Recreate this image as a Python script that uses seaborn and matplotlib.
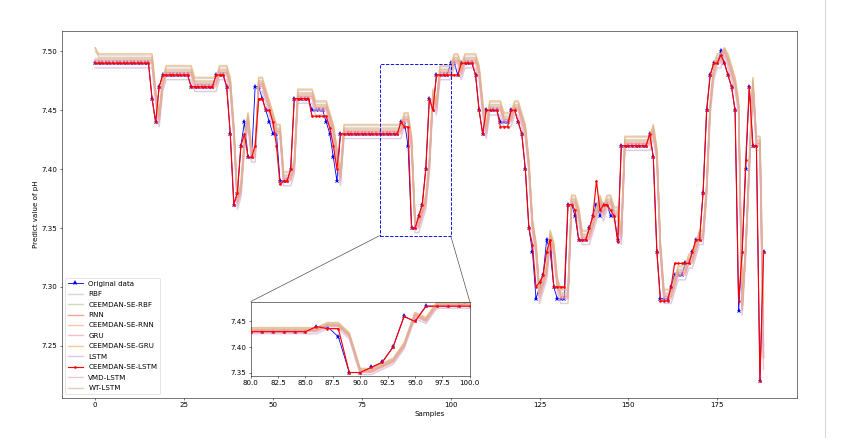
"""pH prediction comparison of decomposition-based models, with zoomed inset."""

import matplotlib

matplotlib.use("Agg")
import matplotlib.pyplot as plt
import numpy as np
import seaborn as sns
from matplotlib.lines import Line2D
from matplotlib.patches import ConnectionPatch, Rectangle

# ---- data ---------------------------------------------------------------
original = (
    [7.49] * 16 + [7.46, 7.44, 7.47] + [7.48] * 8 + [7.47] * 7 + [7.48] * 3
    + [7.47, 7.43, 7.37, 7.38, 7.42, 7.44] + [7.41] * 2 + [7.47] * 2 + [7.46, 7.45, 7.44] + [7.43] * 2 + [7.39] * 3 + [7.40]
    + [7.46] * 5 + [7.45] * 4 + [7.44, 7.43, 7.41, 7.39] + [7.43] * 17 + [7.44] * 2 + [7.42] + [7.35] * 2
    + [7.36, 7.37, 7.40, 7.46, 7.45] + [7.48] * 4 + [7.49] * 2 + [7.48] + [7.49] * 4 + [7.48, 7.45, 7.43] + [7.45] * 4 + [7.44] * 3 + [7.45] * 2
    + [7.44, 7.43, 7.40, 7.35, 7.33, 7.29, 7.30, 7.31, 7.34, 7.33, 7.30] + [7.29] * 3 + [7.37] * 2 + [7.36] + [7.34] * 3
    + [7.35, 7.36, 7.37, 7.36] + [7.37] * 2 + [7.36] * 2 + [7.34] + [7.42] * 8 + [7.43, 7.41, 7.33] + [7.29] * 3 + [7.30] + [7.31] * 3 + [7.32] * 2 + [7.33] + [7.34] * 2
    + [7.38, 7.45, 7.48] + [7.49] * 2 + [7.50, 7.49, 7.48, 7.47, 7.45, 7.28, 7.33, 7.40, 7.47] + [7.42] * 2 + [7.22, 7.33]
)

ceemdan_se_lstm = (
    [7.49] * 16 + [7.46, 7.44, 7.47] + [7.48] * 8 + [7.47] * 7 + [7.48] * 3
    + [7.47, 7.43, 7.37, 7.38, 7.42, 7.43, 7.41, 7.41, 7.42, 7.46, 7.46, 7.45, 7.45, 7.44, 7.42, 7.387, 7.39, 7.39, 7.40]
    + [7.46] * 5 + [7.445] * 4 + [7.445, 7.435, 7.42, 7.40] + [7.43] * 17
    + [7.44, 7.436, 7.436, 7.35, 7.35, 7.36, 7.37, 7.40, 7.46, 7.45] + [7.48] * 7 + [7.49] * 4 + [7.48, 7.45, 7.43]
    + [7.45] * 4 + [7.436] * 3
    + [7.45, 7.45, 7.44, 7.43, 7.40, 7.35, 7.336, 7.30, 7.304, 7.31, 7.33, 7.34, 7.30] + [7.30] * 3 + [7.37, 7.37, 7.365] + [7.34] * 3
    + [7.35, 7.36, 7.39, 7.365, 7.37, 7.37, 7.365, 7.36, 7.338] + [7.42] * 8 + [7.43, 7.41, 7.33] + [7.288] * 3 + [7.30] + [7.32] * 5
    + [7.33, 7.34, 7.34, 7.38, 7.45, 7.48, 7.49, 7.49, 7.497, 7.49, 7.48, 7.47, 7.45, 7.288, 7.33, 7.408, 7.47, 7.42, 7.42, 7.22, 7.33]
)

rbf = (
    [7.500] + [7.497] * 16 + [7.467, 7.447, 7.477] + [7.487] * 8 + [7.477] * 7 + [7.487] * 3
    + [7.477, 7.437, 7.377, 7.387, 7.427, 7.447] + [7.417] * 2 + [7.477] * 2 + [7.467, 7.457, 7.447] + [7.437] * 2 + [7.397] * 3 + [7.407]
    + [7.467] * 5 + [7.457] * 4 + [7.447, 7.437, 7.417, 7.397] + [7.437] * 17 + [7.447] * 2 + [7.427] + [7.357] * 2
    + [7.367, 7.377, 7.407, 7.467, 7.457] + [7.487] * 4 + [7.497] * 2 + [7.487] + [7.497] * 4 + [7.487, 7.457, 7.437] + [7.457] * 4 + [7.447] * 3 + [7.457] * 2
    + [7.447, 7.437, 7.407, 7.357, 7.337, 7.297, 7.307, 7.317, 7.347, 7.337, 7.307] + [7.297] * 3 + [7.377] * 2 + [7.367] + [7.347] * 3
    + [7.357, 7.367, 7.377, 7.367] + [7.377] * 2 + [7.367] * 2 + [7.347] + [7.427] * 8 + [7.437, 7.417, 7.337] + [7.297] * 3 + [7.307] + [7.317] * 3 + [7.327] * 2 + [7.337] + [7.347] * 2
    + [7.387, 7.457, 7.487] + [7.497] * 2 + [7.502, 7.497, 7.487, 7.477, 7.457, 7.287, 7.337, 7.407, 7.477] + [7.427] * 2 + [7.26]
)

ceemdan_se_rbf = (
    [7.494] + [7.494] * 16 + [7.464, 7.444, 7.474] + [7.484] * 8 + [7.474] * 7 + [7.484] * 3
    + [7.474, 7.434, 7.374, 7.384, 7.424, 7.444] + [7.414] * 2 + [7.474] * 2 + [7.464, 7.454, 7.444] + [7.434] * 2 + [7.394] * 3 + [7.404]
    + [7.464] * 5 + [7.454] * 4 + [7.444, 7.434, 7.414, 7.394] + [7.434] * 17 + [7.444] * 2 + [7.424] + [7.354] * 2
    + [7.364, 7.374, 7.404, 7.464, 7.454] + [7.484] * 4 + [7.494] * 2 + [7.484] + [7.494] * 4 + [7.484, 7.454, 7.434] + [7.454] * 4 + [7.444] * 3 + [7.454] * 2
    + [7.444, 7.434, 7.404, 7.354, 7.334, 7.294, 7.304, 7.314, 7.344, 7.334, 7.304] + [7.294] * 3 + [7.374] * 2 + [7.364] + [7.344] * 3
    + [7.354, 7.364, 7.374, 7.364] + [7.374] * 2 + [7.364] * 2 + [7.344] + [7.424] * 8 + [7.434, 7.414, 7.334] + [7.294] * 3 + [7.304] + [7.314] * 3 + [7.324] * 2 + [7.334] + [7.344] * 2
    + [7.384, 7.454, 7.484] + [7.494] * 2 + [7.501, 7.494, 7.484, 7.474, 7.454, 7.284, 7.334, 7.404, 7.474] + [7.424] * 2 + [7.25]
)

rnn = (
    [7.492] + [7.492] * 16 + [7.462, 7.442, 7.472] + [7.482] * 8 + [7.472] * 7 + [7.482] * 3
    + [7.472, 7.432, 7.372, 7.382, 7.422, 7.442] + [7.412] * 2 + [7.472] * 2 + [7.462, 7.452, 7.442] + [7.432] * 2 + [7.392] * 3 + [7.402]
    + [7.462] * 5 + [7.452] * 4 + [7.442, 7.432, 7.412, 7.392] + [7.432] * 17 + [7.442] * 2 + [7.422] + [7.352] * 2
    + [7.362, 7.372, 7.402, 7.462, 7.452] + [7.482] * 4 + [7.492] * 2 + [7.482] + [7.492] * 4 + [7.482, 7.452, 7.432] + [7.452] * 4 + [7.442] * 3 + [7.452] * 2
    + [7.442, 7.432, 7.402, 7.352, 7.332, 7.292, 7.302, 7.312, 7.342, 7.332, 7.302] + [7.292] * 3 + [7.372] * 2 + [7.362] + [7.342] * 3
    + [7.352, 7.362, 7.372, 7.362] + [7.372] * 2 + [7.362] * 2 + [7.342] + [7.422] * 8 + [7.432, 7.412, 7.332] + [7.292] * 3 + [7.302] + [7.312] * 3 + [7.322] * 2 + [7.332] + [7.342] * 2
    + [7.382, 7.452, 7.482] + [7.492] * 2 + [7.500, 7.492, 7.482, 7.472, 7.452, 7.282, 7.332, 7.402, 7.472] + [7.422] * 2 + [7.24]
)

ceemdan_se_rnn = (
    [7.49] + [7.49] * 16 + [7.46, 7.44, 7.47] + [7.48] * 8 + [7.47] * 7 + [7.48] * 3
    + [7.47, 7.43, 7.37, 7.38, 7.42, 7.44] + [7.41] * 2 + [7.47] * 2 + [7.46, 7.45, 7.44] + [7.43] * 2 + [7.39] * 3 + [7.40]
    + [7.46] * 5 + [7.45] * 4 + [7.44, 7.43, 7.41, 7.39] + [7.43] * 17 + [7.44] * 2 + [7.42] + [7.35] * 2
    + [7.36, 7.37, 7.40, 7.46, 7.45] + [7.48] * 4 + [7.49] * 2 + [7.48] + [7.49] * 4 + [7.48, 7.45, 7.43] + [7.45] * 4 + [7.44] * 3 + [7.45] * 2
    + [7.44, 7.43, 7.40, 7.35, 7.33, 7.29, 7.30, 7.31, 7.34, 7.33, 7.30] + [7.29] * 3 + [7.37] * 2 + [7.36] + [7.34] * 3
    + [7.35, 7.36, 7.37, 7.36] + [7.37] * 2 + [7.36] * 2 + [7.34] + [7.42] * 8 + [7.43, 7.41, 7.33] + [7.29] * 3 + [7.30] + [7.31] * 3 + [7.32] * 2 + [7.33] + [7.34] * 2
    + [7.38, 7.45, 7.48] + [7.49] * 2 + [7.50, 7.49, 7.48, 7.47, 7.45, 7.28, 7.33, 7.40, 7.47] + [7.42] * 2 + [7.24]
)

gru = (
    [7.493] + [7.493] * 16 + [7.463, 7.443, 7.473] + [7.483] * 8 + [7.473] * 7 + [7.483] * 3
    + [7.473, 7.433, 7.373, 7.383, 7.423, 7.443] + [7.413] * 2 + [7.473] * 2 + [7.463, 7.453, 7.443] + [7.433] * 2 + [7.393] * 3 + [7.403]
    + [7.463] * 5 + [7.453] * 4 + [7.443, 7.433, 7.413, 7.393] + [7.433] * 17 + [7.443] * 2 + [7.423] + [7.353] * 2
    + [7.363, 7.373, 7.403, 7.463, 7.453] + [7.483] * 4 + [7.493] * 2 + [7.483] + [7.493] * 4 + [7.483, 7.453, 7.433] + [7.453] * 4 + [7.443] * 3 + [7.453] * 2
    + [7.443, 7.433, 7.403, 7.353, 7.333, 7.293, 7.303, 7.313, 7.343, 7.333, 7.303] + [7.293] * 3 + [7.373] * 2 + [7.363] + [7.343] * 3
    + [7.353, 7.363, 7.373, 7.363] + [7.373] * 2 + [7.363] * 2 + [7.343] + [7.423] * 8 + [7.433, 7.413, 7.333] + [7.293] * 3 + [7.303] + [7.313] * 3 + [7.323] * 2 + [7.333] + [7.343] * 2
    + [7.383, 7.453, 7.483] + [7.493] * 2 + [7.501, 7.493, 7.483, 7.473, 7.453, 7.283, 7.333, 7.403, 7.473] + [7.423] * 2 + [7.25]
)

ceemdan_se_gru = (
    [7.503] + [7.498] * 16 + [7.468, 7.448, 7.478] + [7.488] * 8 + [7.478] * 7 + [7.488] * 3
    + [7.478, 7.438, 7.378, 7.388, 7.428, 7.448] + [7.418] * 2 + [7.478] * 2 + [7.468, 7.458, 7.448] + [7.438] * 2 + [7.398] * 3 + [7.408]
    + [7.468] * 5 + [7.458] * 4 + [7.448, 7.438, 7.418, 7.398] + [7.438] * 17 + [7.448] * 2 + [7.428] + [7.358] * 2
    + [7.368, 7.378, 7.408, 7.468, 7.458] + [7.488] * 4 + [7.498] * 2 + [7.488] + [7.498] * 4 + [7.488, 7.458, 7.438] + [7.458] * 4 + [7.448] * 3 + [7.458] * 2
    + [7.448, 7.438, 7.408, 7.358, 7.338, 7.298, 7.308, 7.318, 7.348, 7.338, 7.308] + [7.298] * 3 + [7.378] * 2 + [7.368] + [7.348] * 3
    + [7.358, 7.368, 7.378, 7.368] + [7.378] * 2 + [7.368] * 2 + [7.348] + [7.428] * 8 + [7.438, 7.418, 7.338] + [7.298] * 3 + [7.308] + [7.318] * 3 + [7.328] * 2 + [7.338] + [7.348] * 2
    + [7.388, 7.458, 7.488] + [7.498] * 2 + [7.503, 7.498, 7.488, 7.478, 7.458, 7.288, 7.338, 7.408, 7.478] + [7.428] * 2 + [7.27]
)

lstm = (
    [7.486] + [7.486] * 16 + [7.456, 7.436, 7.466] + [7.476] * 8 + [7.466] * 7 + [7.476] * 3
    + [7.466, 7.426, 7.366, 7.376, 7.416, 7.436] + [7.406] * 2 + [7.466] * 2 + [7.456, 7.446, 7.436] + [7.426] * 2 + [7.386] * 3 + [7.396]
    + [7.456] * 5 + [7.446] * 4 + [7.436, 7.426, 7.406, 7.386] + [7.426] * 17 + [7.436] * 2 + [7.416] + [7.346] * 2
    + [7.356, 7.366, 7.396, 7.456, 7.446] + [7.476] * 4 + [7.486] * 2 + [7.476] + [7.486] * 4 + [7.476, 7.446, 7.426] + [7.446] * 4 + [7.436] * 3 + [7.446] * 2
    + [7.436, 7.426, 7.396, 7.346, 7.326, 7.286, 7.296, 7.306, 7.336, 7.326, 7.296] + [7.286] * 3 + [7.366] * 2 + [7.356] + [7.336] * 3
    + [7.346, 7.356, 7.366, 7.356] + [7.366] * 2 + [7.356] * 2 + [7.336] + [7.416] * 8 + [7.426, 7.406, 7.326] + [7.286] * 3 + [7.296] + [7.306] * 3 + [7.316] * 2 + [7.326] + [7.336] * 2
    + [7.376, 7.446, 7.476] + [7.486] * 2 + [7.496, 7.486, 7.476, 7.466, 7.446, 7.276, 7.326, 7.396, 7.466] + [7.416] * 2 + [7.24]
)

vmd_lstm = (
    [7.491] + [7.491] * 16 + [7.461, 7.441, 7.471] + [7.481] * 8 + [7.471] * 7 + [7.481] * 3
    + [7.471, 7.431, 7.371, 7.381, 7.421, 7.441] + [7.411] * 2 + [7.471] * 2 + [7.461, 7.451, 7.441] + [7.431] * 2 + [7.391] * 3 + [7.401]
    + [7.461] * 5 + [7.451] * 4 + [7.441, 7.431, 7.411, 7.391] + [7.431] * 17 + [7.441] * 2 + [7.421] + [7.351] * 2
    + [7.361, 7.371, 7.401, 7.461, 7.451] + [7.481] * 4 + [7.491] * 2 + [7.481] + [7.491] * 4 + [7.481, 7.451, 7.431] + [7.451] * 4 + [7.441] * 3 + [7.451] * 2
    + [7.441, 7.431, 7.401, 7.351, 7.331, 7.291, 7.301, 7.311, 7.341, 7.331, 7.301] + [7.291] * 3 + [7.371] * 2 + [7.361] + [7.341] * 3
    + [7.351, 7.361, 7.371, 7.361] + [7.371] * 2 + [7.361] * 2 + [7.341] + [7.421] * 8 + [7.431, 7.411, 7.331] + [7.291] * 3 + [7.301] + [7.311] * 3 + [7.321] * 2 + [7.331] + [7.341] * 2
    + [7.381, 7.451, 7.481] + [7.491] * 2 + [7.500, 7.491, 7.481, 7.471, 7.451, 7.281, 7.331, 7.401, 7.471] + [7.421] * 2 + [7.23]
)

wt_lstm = (
    [7.503] + [7.495] * 16 + [7.465, 7.445, 7.475] + [7.485] * 8 + [7.475] * 7 + [7.485] * 3
    + [7.475, 7.435, 7.375, 7.385, 7.425, 7.445] + [7.415] * 2 + [7.475] * 2 + [7.465, 7.455, 7.445] + [7.435] * 2 + [7.395] * 3 + [7.405]
    + [7.465] * 5 + [7.455] * 4 + [7.445, 7.435, 7.415, 7.395] + [7.435] * 17 + [7.445] * 2 + [7.425] + [7.355] * 2
    + [7.365, 7.375, 7.405, 7.465, 7.455] + [7.485] * 4 + [7.495] * 2 + [7.485] + [7.495] * 4 + [7.485, 7.455, 7.435] + [7.455] * 4 + [7.445] * 3 + [7.455] * 2
    + [7.445, 7.435, 7.405, 7.355, 7.335, 7.295, 7.305, 7.315, 7.345, 7.335, 7.305] + [7.295] * 3 + [7.375] * 2 + [7.365] + [7.345] * 3
    + [7.355, 7.365, 7.375, 7.365] + [7.375] * 2 + [7.365] * 2 + [7.345] + [7.425] * 8 + [7.435, 7.415, 7.335] + [7.295] * 3 + [7.305] + [7.315] * 3 + [7.325] * 2 + [7.335] + [7.345] * 2
    + [7.385, 7.455, 7.485] + [7.495] * 2 + [7.503, 7.495, 7.485, 7.475, 7.455, 7.285, 7.335, 7.405, 7.475] + [7.425] * 2 + [7.29]
)

# legend order; faint model curves
models = [
    ("RBF", rbf, "#c4c4c4"),
    ("CEEMDAN-SE-RBF", ceemdan_se_rbf, "#bccb8c"),
    ("RNN", rnn, "#f07a5c"),
    ("CEEMDAN-SE-RNN", ceemdan_se_rnn, "#f6aa80"),
    ("GRU", gru, "#f5a0ae"),
    ("CEEMDAN-SE-GRU", ceemdan_se_gru, "#f5b070"),
    ("LSTM", lstm, "#cdb0d2"),
    ("CEEMDAN-SE-LSTM", ceemdan_se_lstm, "red"),
    ("VMD-LSTM", vmd_lstm, "#f4a6b8"),
    ("WT-LSTM", wt_lstm, "#d8b48c"),
]

zoom_x = (80, 100)
zoom_y = (7.3435, 7.489)

for name, values, _ in models:
    assert len(values) == len(original), name

samples = np.arange(len(original))
plt.rcParams["font.size"] = 11


def draw_series(ax, with_labels):
    sns.lineplot(x=samples, y=original, ax=ax, color="blue", marker="*",
                 markersize=8, markeredgewidth=0, linewidth=1.3,
                 label="Original data" if with_labels else None, legend=False)
    for name, values, color in models:
        if name == "CEEMDAN-SE-LSTM":
            sns.lineplot(x=samples, y=values, ax=ax, color=color, marker=".",
                         markersize=8, markeredgewidth=0, linewidth=1.8, zorder=5,
                         label=name if with_labels else None, legend=False)
        else:
            sns.lineplot(x=samples, y=values, ax=ax, color=color, alpha=0.65,
                         linewidth=2.2,
                         label=name if with_labels else None, legend=False)


fig = plt.figure(figsize=(846 / 47, 446 / 47))
ax = fig.add_axes([0.073, 0.108, 0.869, 0.822])
draw_series(ax, True)
ax.set_xlabel("Samples")
ax.set_ylabel("Predict value of pH")
ax.legend(loc="lower left", labelspacing=0.62)

ax_in = ax.inset_axes([0.257, 0.060, 0.298, 0.2025])
draw_series(ax_in, False)
ax_in.set_xlim(*zoom_x)
ax_in.set_ylim(*zoom_y)
ax_in.set_xlabel("")
ax_in.set_ylabel("")

ax.add_patch(Rectangle((zoom_x[0], zoom_y[0]), zoom_x[1] - zoom_x[0], zoom_y[1] - zoom_y[0],
                       fill=False, edgecolor="blue", linestyle="--", linewidth=1.4, zorder=6))
for corner_x, inset_x in ((zoom_x[0], 0), (zoom_x[1], 1)):
    con = ConnectionPatch(xyA=(corner_x, zoom_y[0]), coordsA=ax.transData,
                          xyB=(inset_x, 1), coordsB=ax_in.transAxes,
                          color="#333333", linewidth=0.9)
    fig.add_artist(con)

fig.add_artist(Line2D([0.975, 0.975], [0.02, 1.0], transform=fig.transFigure,
                      color="#bdbdbd", linewidth=1))

fig.savefig("out.png", dpi=47)
plt.close(fig)
